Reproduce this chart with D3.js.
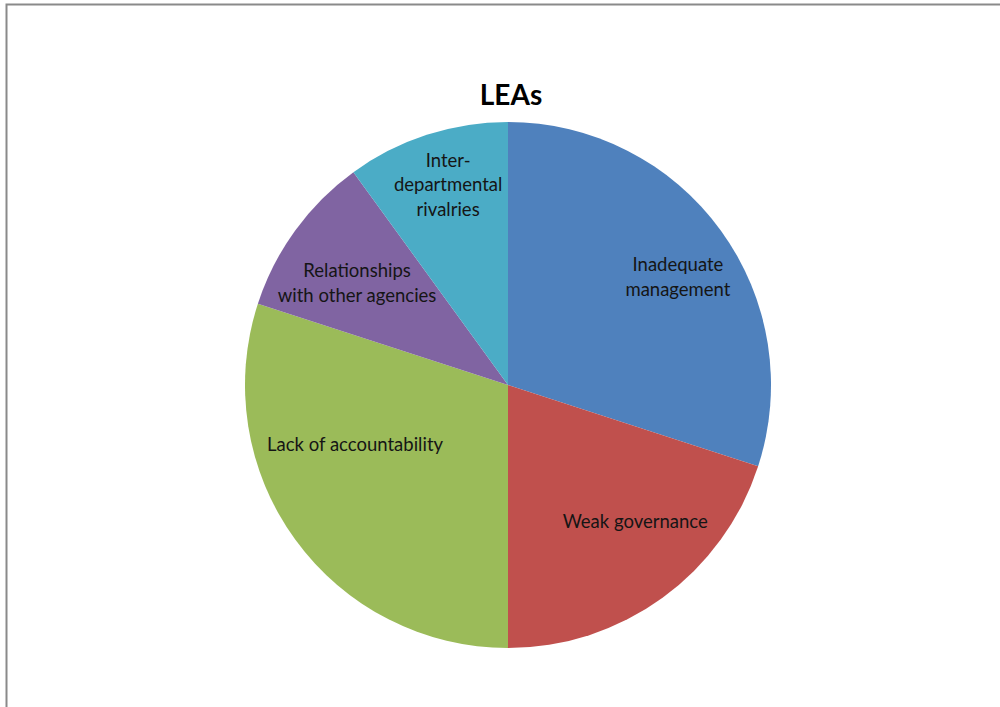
<!DOCTYPE html>
<html>
<head>
<meta charset="utf-8">
<script src="https://cdn.jsdelivr.net/npm/d3@7/dist/d3.min.js"></script>
<style>
  html, body { margin: 0; padding: 0; background: #fff; }
  svg { display: block; }
</style>
</head>
<body>
<svg id="chart" width="1000" height="707"></svg>
<script>
// Categories and their shares (per cent), clockwise from 12 o'clock
const categories = [
  "Inadequate management",
  "Weak governance",
  "Lack of accountability",
  "Relationships with other agencies",
  "Inter-departmental rivalries"
];
const values = [30, 20, 30, 10, 10];

// Label text broken into lines as displayed inside each slice
const labelLines = [
  ["Inadequate", "management"],
  ["Weak governance"],
  ["Lack of accountability"],
  ["Relationships", "with other agencies"],
  ["Inter-", "departmental", "rivalries"]
];

const colors = ["#4F81BD", "#C0504D", "#9BBB59", "#8064A2", "#4BACC6"];

// Nudges of each label from the slice centroid (px)
const labelNudge = [[21, 0], [19, -12], [-4, -49], [-2, 6], [-3, -25]];

const title = "LEAs";

const W = 1000, H = 707;
const cx = 508, cy = 385, R = 263;

const svg = d3.select("#chart");

// Chart-area frame
svg.append("rect")
  .attr("x", 6.5).attr("y", 4.5)
  .attr("width", 1000).attr("height", 710)
  .attr("fill", "none")
  .attr("stroke", "#8a8a8a")
  .attr("stroke-width", 2);

svg.append("text")
  .attr("x", cx + 3).attr("y", 105)
  .attr("text-anchor", "middle")
  .attr("font-family", "Lato, 'Open Sans', sans-serif")
  .attr("font-weight", "bold")
  .attr("font-size", 28)
  .attr("fill", "#000")
  .text(title);

const pie = d3.pie().sort(null).value(d => d.value);
const data = pie(categories.map((c, i) => ({ name: c, value: values[i], i })));

const arc = d3.arc().innerRadius(0).outerRadius(R);
const labelArc = d3.arc().innerRadius(R * 0.7).outerRadius(R * 0.7);

const g = svg.append("g").attr("transform", `translate(${cx},${cy})`);

g.selectAll("path.slice")
  .data(data)
  .join("path")
  .attr("class", "slice")
  .attr("d", arc)
  .attr("fill", d => colors[d.data.i]);

const fontSize = 18.5, lineH = 24.5;

g.selectAll("text.lbl")
  .data(data)
  .join("text")
  .attr("class", "lbl")
  .attr("text-anchor", "middle")
  .attr("font-family", "Lato, 'Open Sans', sans-serif")
  .attr("font-size", fontSize)
  .attr("fill", "#151515")
  .each(function(d) {
    const [x0, y0] = labelArc.centroid(d);
    const [nx, ny] = labelNudge[d.data.i];
    const lines = labelLines[d.data.i];
    const x = x0 + nx, y = y0 + ny;
    const top = y - (lines.length - 1) * lineH / 2;
    d3.select(this).selectAll("tspan")
      .data(lines)
      .join("tspan")
      .attr("x", x)
      .attr("y", (l, k) => top + k * lineH)
      .attr("dy", "0.35em")
      .text(l => l);
  });
</script>
</body>
</html>
